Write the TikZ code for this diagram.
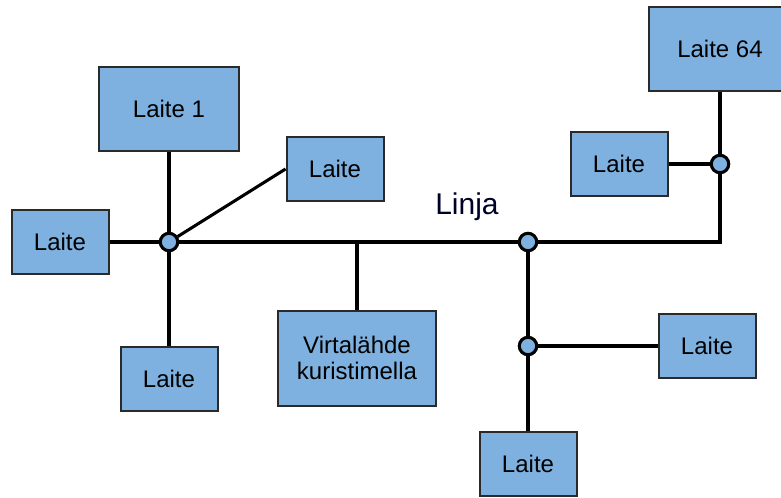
\documentclass[tikz,border=0pt]{standalone}
\usepackage{fontspec}
\setmainfont{Liberation Sans}
\usepackage{tikz}
\usetikzlibrary{positioning}
\usepackage{xcolor}
\definecolor{boxblue}{HTML}{7EB1DF}
\definecolor{boxline}{HTML}{2A2A2A}

\tikzset{
  laite/.style={draw=boxline, line width=1.5pt, fill=boxblue, minimum width=72.75pt,
    minimum height=48pt, inner sep=0pt, font=\fontsize{18}{20}\selectfont, align=center},
  liitos/.style={circle, draw=black, line width=2.2pt, fill=boxblue, minimum size=13pt, inner sep=0pt},
  johto/.style={line width=2.3pt, black}
}

\begin{document}
\begin{tikzpicture}[x=0.75pt, y=-0.75pt]
        \clip (0,0) rectangle (781,497);
        \fill[white] (0,0) rectangle (781,497);
        % Laitteet
        \node[laite, minimum width=105pt, minimum height=63pt] (laite1) at (169,109) {Laite 1};
        \node[laite] (laiteB) at (335,169) {Laite};
        \node[laite] (laiteA) at (60,242) {Laite};
        \node[laite] (laiteC) at (169,379) {Laite};
        \node[laite, minimum width=118.5pt, minimum height=71.25pt] (virta) at (357,358) {Virtal\"ahde\\kuristimella};
        \node[laite, minimum width=106.5pt, minimum height=63pt] (laite64) at (720,49) {Laite 64};
        \node[laite] (laiteD) at (619,164) {Laite};
        \node[laite] (laiteE) at (707,346) {Laite};
        \node[laite] (laiteF) at (528,464) {Laite};
        % Liitokset
        \node[liitos] (j1) at (169,242) {};
        \node[liitos] (j2) at (528,242) {};
        \node[liitos] (j3) at (528,346) {};
        \node[liitos] (j4) at (720,164) {};
        \coordinate (kulma) at (720,242);
        % Linja
        \draw[johto] (laiteA.east) -- (j1);
        \draw[johto] (j1) -- (j2);
        \draw[johto, line join=miter] (j2) -- (kulma) -- (j4);
        \draw[johto] (j4) -- (laite64.south);
        \draw[johto] (laite1.south) -- (j1);
        \draw[johto] (j1) -- (laiteC.north);
        \draw[johto] (j1) -- (laiteB.west);
        \draw[johto] (virta.north) -- (virta.north |- j1);
        \draw[johto] (j2) -- (j3);
        \draw[johto] (j3) -- (laiteF.north);
        \draw[johto] (j3) -- (laiteE.west);
        \draw[johto] (laiteD.east) -- (j4);
        % uudelleen liitokset linjan päälle
        \node[liitos] at (j1) {};
        \node[liitos] at (j2) {};
        \node[liitos] at (j3) {};
        \node[liitos] at (j4) {};
        \node[font=\fontsize{22.5}{24}\selectfont, text=black!85!blue] (linja) at (467,207) {Linja};
\end{tikzpicture}
\end{document}
